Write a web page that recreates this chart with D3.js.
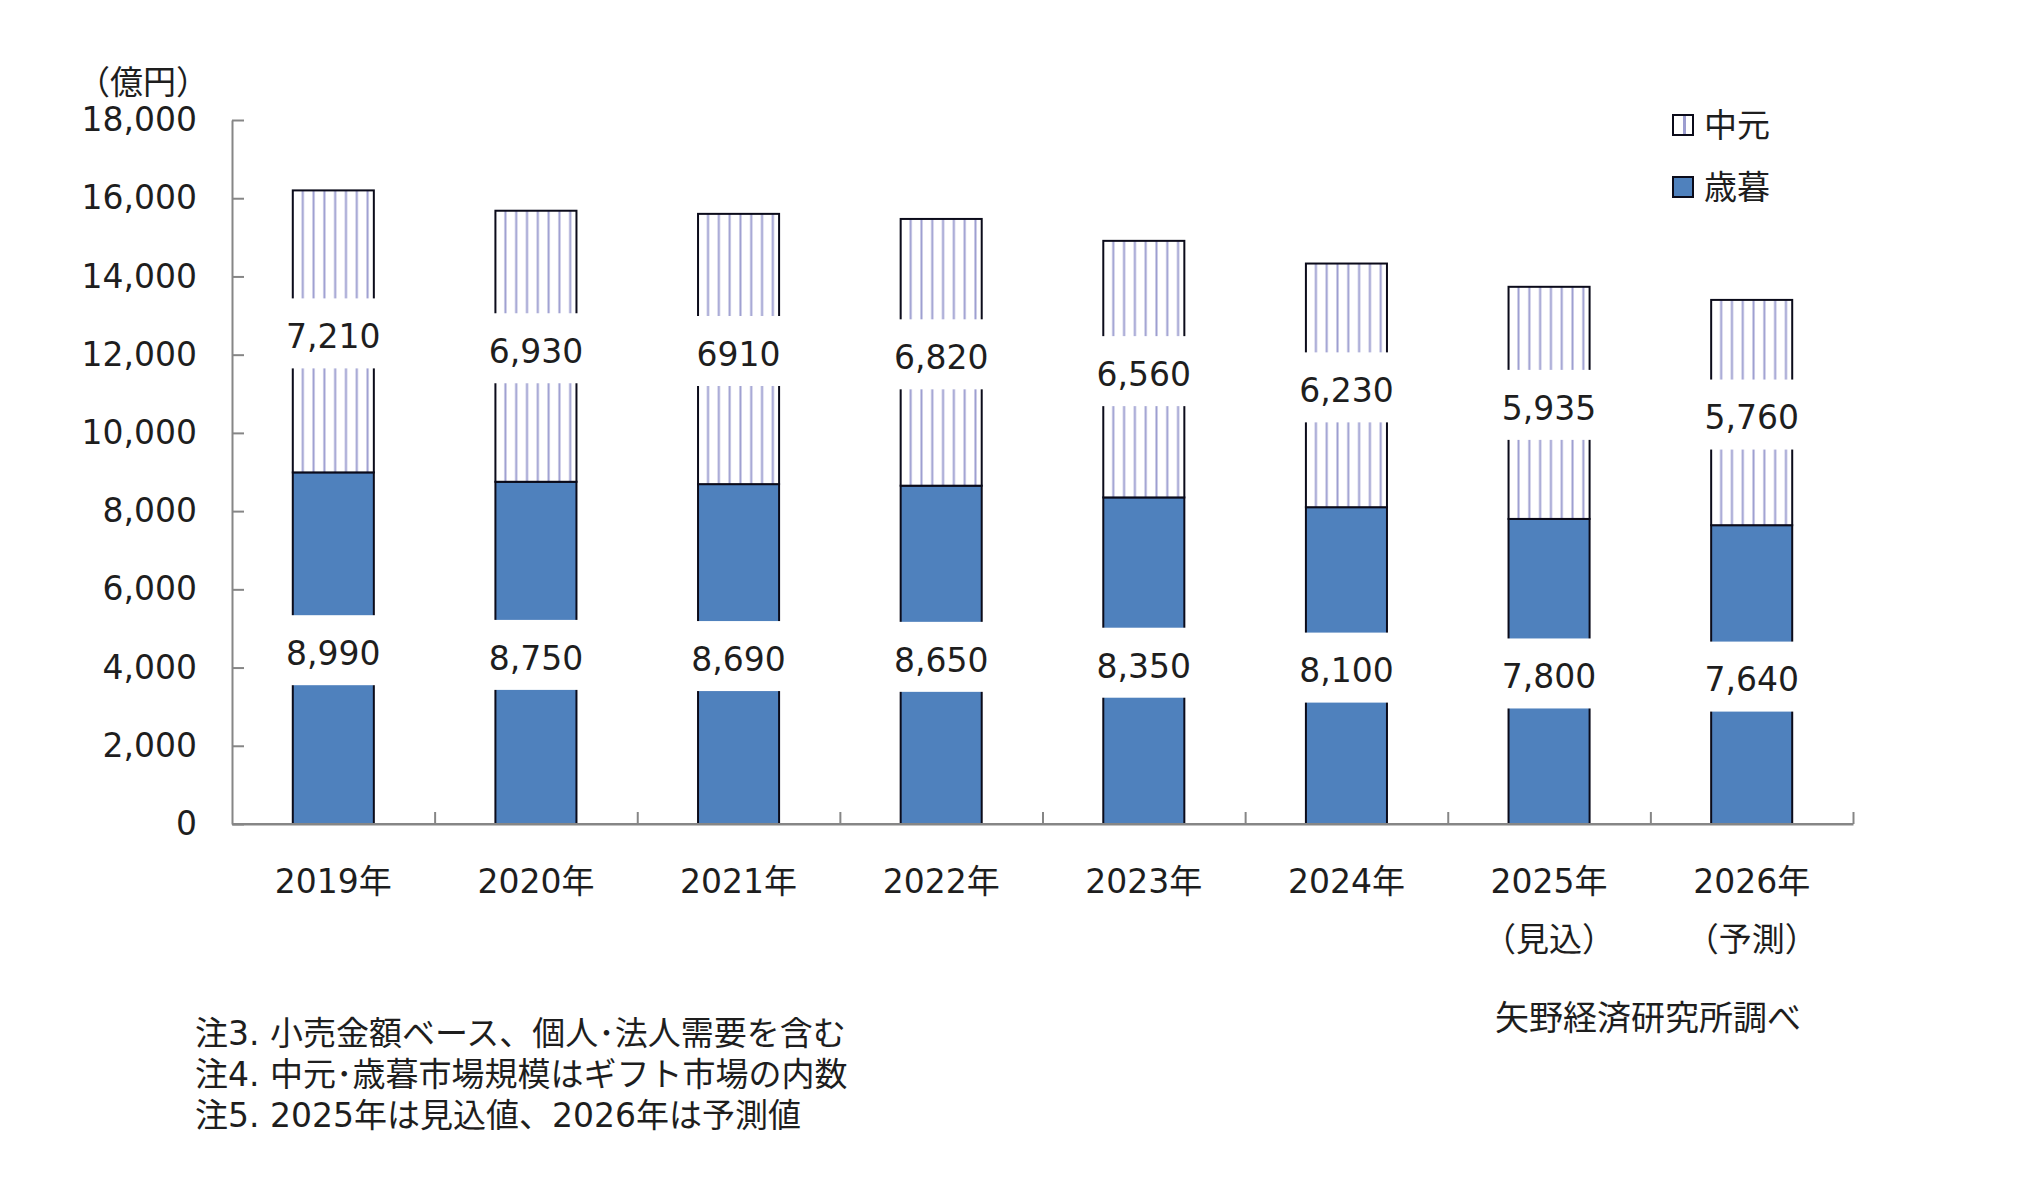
<!DOCTYPE html>
<html>
<head>
<meta charset="utf-8">
<script src="https://cdn.jsdelivr.net/npm/d3@7"></script>
<style>
  body { margin: 0; background: #fff; }
  svg text { font-family: "DejaVu Sans", "Noto Sans CJK JP", sans-serif; fill: #1e1e1e; }
</style>
</head>
<body>
<svg id="chart" width="2039" height="1200"></svg>
<script>
// chart data
const years = ['2019年', '2020年', '2021年', '2022年', '2023年', '2024年', '2025年', '2026年'];
const subLabels = ['', '', '', '', '', '', '（見込）', '（予測）'];
const seibo = [8990, 8750, 8690, 8650, 8350, 8100, 7800, 7640];      // 歳暮 (bottom)
const chugen = [7210, 6930, 6910, 6820, 6560, 6230, 5935, 5760];     // 中元 (top)
const seiboLabels = ['8,990', '8,750', '8,690', '8,650', '8,350', '8,100', '7,800', '7,640'];
const chugenLabels = ['7,210', '6,930', '6910', '6,820', '6,560', '6,230', '5,935', '5,760'];
const yTicks = [0, 2000, 4000, 6000, 8000, 10000, 12000, 14000, 16000, 18000];
const notes = [
    '注3. 小売金額ベース、個人･法人需要を含む',
    '注4. 中元･歳暮市場規模はギフト市場の内数',
    '注5. 2025年は見込値、2026年は予測値'
];

const svg = d3.select('#chart');
const fs = 33;
const blue = '#4f81bd';
const hatchColor = '#9c9dd0';
const axisColor = '#868686';

const plotLeft = 232, plotRight = 1853, plotTop = 120, plotBottom = 824;

// scales
const xScale = d3.scaleBand()
    .domain(years)
    .range([plotLeft, plotRight])
    .paddingInner(0.6)
    .paddingOuter(0.3);

const yScale = d3.scaleLinear()
    .domain([0, 18000])
    .range([plotBottom, plotTop]);

//stack the two series
const rows = years.map((y, i) => ({year: y, seibo: seibo[i], chugen: chugen[i]}));
const stacked = d3.stack().keys(['seibo', 'chugen'])(rows);

const bw = xScale.bandwidth();
const hatchStep = 10.8;

//one hatch pattern per bar so the lines line up with the bar edges
const defs = svg.append('defs');
years.forEach((y, i) => {
    const p = defs.append('pattern')
        .attr('id', 'hatch' + i)
        .attr('patternUnits', 'userSpaceOnUse')
        .attr('x', xScale(y) + 10 - hatchStep / 2)
        .attr('y', 0)
        .attr('width', hatchStep)
        .attr('height', 20);
    p.append('rect').attr('width', hatchStep).attr('height', 20).attr('fill', '#fff');
    p.append('rect')
        .attr('x', hatchStep / 2 - 1)
        .attr('width', 2)
        .attr('height', 20)
        .attr('fill', hatchColor);
});
const lp = defs.append('pattern')
    .attr('id', 'hatchLegend')
    .attr('patternUnits', 'userSpaceOnUse')
    .attr('x', 1673)
    .attr('y', 0)
    .attr('width', 20)
    .attr('height', 20);
lp.append('rect').attr('width', 20).attr('height', 20).attr('fill', '#fff');
lp.append('rect').attr('x', 10).attr('width', 3).attr('height', 20).attr('fill', hatchColor);

// y axis
svg.append('g')
    .attr('transform', `translate(${plotLeft},0)`)
    .call(d3.axisLeft(yScale)
        .tickValues(yTicks)
        .tickSize(-12)
        .tickSizeOuter(0)
        .tickPadding(35)
        .tickFormat(d3.format(',')))
    .call(g => g.select('.domain').attr('stroke', axisColor).attr('stroke-width', 2))
    .call(g => g.selectAll('.tick line').attr('stroke', axisColor).attr('stroke-width', 2))
    .call(g => g.selectAll('.tick text')
        .attr('font-size', fs)
        .attr('fill', '#1e1e1e')
        .attr('font-family', '"DejaVu Sans", "Noto Sans CJK JP", sans-serif'));

// x axis line with category boundary ticks
const boundScale = d3.scaleLinear().domain([0, years.length]).range([plotLeft, plotRight]);
svg.append('g')
    .attr('transform', `translate(0,${plotBottom})`)
    .call(d3.axisBottom(boundScale)
        .tickValues(d3.range(1, years.length + 1))
        .tickSize(-12)
        .tickSizeOuter(0)
        .tickFormat(''))
    .call(g => g.select('.domain').attr('stroke', axisColor).attr('stroke-width', 2))
    .call(g => g.selectAll('.tick line').attr('stroke', axisColor).attr('stroke-width', 2));

// bars
const layers = svg.selectAll('.layer')
    .data(stacked)
    .enter()
    .append('g')
        .attr('class', 'layer');

layers.selectAll('rect')
    .data(d => d.map(v => ({key: d.key, v: v})))
    .enter()
    .append('rect')
        .attr('x', d => xScale(d.v.data.year))
        .attr('y', d => yScale(d.v[1]))
        .attr('width', bw)
        .attr('height', d => yScale(d.v[0]) - yScale(d.v[1]))
        .attr('fill', (d, i) => d.key === 'seibo' ? blue : `url(#hatch${i})`)
        .attr('stroke', '#0b0b1a')
        .attr('stroke-width', 2);

// redraw the x axis line over bar bottoms
svg.append('line')
    .attr('x1', plotLeft).attr('x2', plotRight)
    .attr('y1', plotBottom).attr('y2', plotBottom)
    .attr('stroke', axisColor)
    .attr('stroke-width', 2);

// data labels with white boxes
const labelSets = [seiboLabels, chugenLabels];
stacked.forEach((layer, li) => {
    layer.forEach((v, i) => {
        const cx = xScale(v.data.year) + bw / 2;
        const cy = (yScale(v[0]) + yScale(v[1])) / 2 + 2;
        const g = svg.append('g');
        const t = g.append('text')
            .attr('x', cx)
            .attr('y', cy + 3 + fs * 0.36)
            .attr('text-anchor', 'middle')
            .attr('font-size', fs)
            .text(labelSets[li][i]);
        const w = t.node().getComputedTextLength();
        g.insert('rect', 'text')
            .attr('x', cx - w / 2 - 6)
            .attr('y', cy - 35)
            .attr('width', w + 12)
            .attr('height', 70)
            .attr('fill', '#fff');
    });
});

// category labels
years.forEach((y, i) => {
    const cx = xScale(y) + bw / 2;
    svg.append('text')
        .attr('x', cx)
        .attr('y', 881 + 12)
        .attr('text-anchor', 'middle')
        .attr('font-size', fs)
        .text(y);
    if (subLabels[i]) {
        svg.append('text')
            .attr('x', cx)
            .attr('y', 939 + 12)
            .attr('text-anchor', 'middle')
            .attr('font-size', fs)
            .text(subLabels[i]);
    }
});

// unit label
svg.append('text')
    .attr('x', 143)
    .attr('y', 82 + 12)
    .attr('text-anchor', 'middle')
    .attr('font-size', 33)
    .text('（億円）');

// legend
const legend = [
    {name: '中元', fill: 'url(#hatchLegend)', y: 125},
    {name: '歳暮', fill: blue, y: 187}
];
legend.forEach(l => {
    svg.append('rect')
        .attr('x', 1673).attr('y', l.y - 10)
        .attr('width', 20).attr('height', 20)
        .attr('fill', l.fill)
        .attr('stroke', '#0b0b1a')
        .attr('stroke-width', 2);
    svg.append('text')
        .attr('x', 1704)
        .attr('y', l.y + 12)
        .attr('font-size', fs)
        .text(l.name);
});

// notes
notes.forEach((n, i) => {
    svg.append('text')
        .attr('x', 195)
        .attr('y', 1033 + 12 + i * 41)
        .attr('font-size', 33)
        .text(n);
});

svg.append('text')
    .attr('x', 1495)
    .attr('y', 1018 + 12)
    .attr('font-size', 34)
    .text('矢野経済研究所調べ');
</script>
</body>
</html>
